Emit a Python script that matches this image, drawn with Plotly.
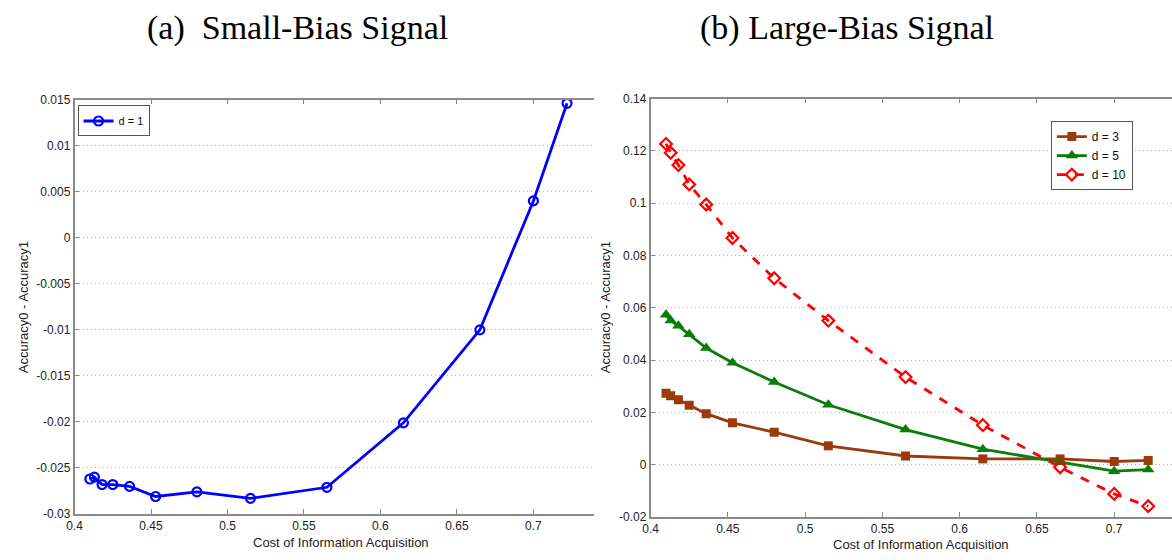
import plotly.graph_objects as go

# ---- data ----
cost = [0.41, 0.413, 0.418, 0.425, 0.436, 0.453, 0.48, 0.515, 0.565, 0.615, 0.665, 0.70, 0.722]
d1 = [-0.0262, -0.0260, -0.0268, -0.0268, -0.0270, -0.0281, -0.0276, -0.0283, -0.0271, -0.0201, -0.0100, 0.0040, 0.0146]
d3 = [0.0273, 0.0264, 0.0248, 0.0227, 0.0195, 0.0160, 0.0124, 0.0072, 0.0033, 0.0022, 0.0022, 0.0012, 0.0016]
d5 = [0.0573, 0.0551, 0.0531, 0.0499, 0.0446, 0.0390, 0.0316, 0.0229, 0.0134, 0.0059, 0.0009, -0.0025, -0.0019]
d10 = [0.1227, 0.1193, 0.1146, 0.1072, 0.0995, 0.0867, 0.0713, 0.0551, 0.0335, 0.0151, -0.0010, -0.0112, -0.0159]

x_ticks = [0.4, 0.45, 0.5, 0.55, 0.6, 0.65, 0.7]
x_ticktext = ["0.4", "0.45", "0.5", "0.55", "0.6", "0.65", "0.7"]
yl_ticks = [0.015, 0.01, 0.005, 0, -0.005, -0.01, -0.015, -0.02, -0.025, -0.03]
yl_ticktext = ["0.015", "0.01", "0.005", "0", "-0.005", "-0.01", "-0.015", "-0.02", "-0.025", "-0.03"]
yr_ticks = [0.14, 0.12, 0.1, 0.08, 0.06, 0.04, 0.02, 0, -0.02]
yr_ticktext = ["0.14", "0.12", "0.1", "0.08", "0.06", "0.04", "0.02", "0", "-0.02"]

W, H = 1172, 560
def px(x): return x / W
def py(y): return 1 - y / H

fig = go.Figure()

fig.add_trace(go.Scatter(
    x=cost, y=d1, mode="lines+markers", name="d = 1",
    line=dict(color="#0000FF", width=2.8),
    marker=dict(symbol="circle-open", size=9, color="#0000FF", line=dict(width=2.2)),
    xaxis="x", yaxis="y", legend="legend"))

fig.add_trace(go.Scatter(
    x=cost, y=d3, mode="lines+markers", name="d = 3",
    line=dict(color="#9C3A0E", width=2.8),
    marker=dict(symbol="square", size=9, color="#9C3A0E"),
    xaxis="x2", yaxis="y2", legend="legend2"))
fig.add_trace(go.Scatter(
    x=cost, y=d5, mode="lines+markers", name="d = 5",
    line=dict(color="#0A7D0A", width=2.8),
    marker=dict(symbol="triangle-up", size=11, color="#0A7D0A"),
    xaxis="x2", yaxis="y2", legend="legend2"))
fig.add_trace(go.Scatter(
    x=cost, y=d10, mode="lines+markers", name="d = 10",
    line=dict(color="#FF0000", width=2.8, dash="dash"),
    marker=dict(symbol="diamond-open", size=9, color="#FF0000", line=dict(width=2.2)),
    xaxis="x2", yaxis="y2", legend="legend2"))

axcol = "#8a8a8a"
tickfont = dict(family="Liberation Sans, Arial", size=12, color="#222222")
common_x = dict(showline=True, linecolor=axcol, linewidth=1.5, mirror="ticks",
                ticks="inside", ticklen=5, tickcolor=axcol, showgrid=False,
                zeroline=False, tickfont=tickfont, tickvals=x_ticks, ticktext=x_ticktext)
common_y = dict(showline=True, linecolor=axcol, linewidth=1.5, mirror=False,
                ticks="inside", ticklen=5, tickcolor=axcol, showgrid=True,
                gridcolor="#b0b0b0", griddash="1px,3px", gridwidth=1,
                zeroline=False, tickfont=tickfont)

fig.update_layout(
    width=W, height=H, margin=dict(l=0, r=0, t=0, b=0),
    paper_bgcolor="white", plot_bgcolor="white",
    showlegend=True,
    xaxis=dict(domain=[px(67), px(590)], range=[0.4, 0.7396], anchor="y", **common_x),
    yaxis=dict(domain=[py(520), py(95)], range=[-0.03, 0.015], anchor="x",
               tickvals=yl_ticks, ticktext=yl_ticktext, **common_y),
    xaxis2=dict(domain=[px(647), 1.0], range=[0.4, 0.7374], anchor="y2", **common_x),
    yaxis2=dict(domain=[py(523), py(94)], range=[-0.02, 0.14], anchor="x2",
                tickvals=yr_ticks, ticktext=yr_ticktext, **common_y),
    legend=dict(x=px(70), y=py(101), xanchor="left", yanchor="top",
                bordercolor="#555555", borderwidth=1, bgcolor="white",
                font=dict(family="Liberation Sans, Arial", size=11, color="#111"),
                itemwidth=30, tracegroupgap=0),
    legend2=dict(x=px(1050), y=py(117), xanchor="left", yanchor="top",
                 bordercolor="#555555", borderwidth=1, bgcolor="white",
                 font=dict(family="Liberation Sans, Arial", size=12, color="#111"),
                 itemwidth=30, tracegroupgap=0),
)

ann_font = dict(family="Liberation Sans, Arial", size=13, color="#222222")
title_font = dict(family="Liberation Serif, Times New Roman", size=34, color="#000000")
annotations = [
    dict(text="(a)  Small-Bias Signal", x=px(291), y=py(22), showarrow=False, font=title_font),
    dict(text="(b) Large-Bias Signal", x=px(845), y=py(22), showarrow=False, font=title_font),
    dict(text="Cost of Information Acquisition", x=px(335), y=py(549), showarrow=False, font=ann_font),
    dict(text="Cost of Information Acquisition", x=px(919), y=py(551), showarrow=False, font=ann_font),
    dict(text="Accuracy0 - Accuracy1", x=px(15), y=py(308), showarrow=False, font=ann_font, textangle=-90),
    dict(text="Accuracy0 - Accuracy1", x=px(601), y=py(308), showarrow=False, font=ann_font, textangle=-90),
]
for a in annotations:
    a.update(xref="paper", yref="paper", xanchor="center", yanchor="middle")
fig.update_layout(annotations=annotations)

fig.write_html("out.html")
